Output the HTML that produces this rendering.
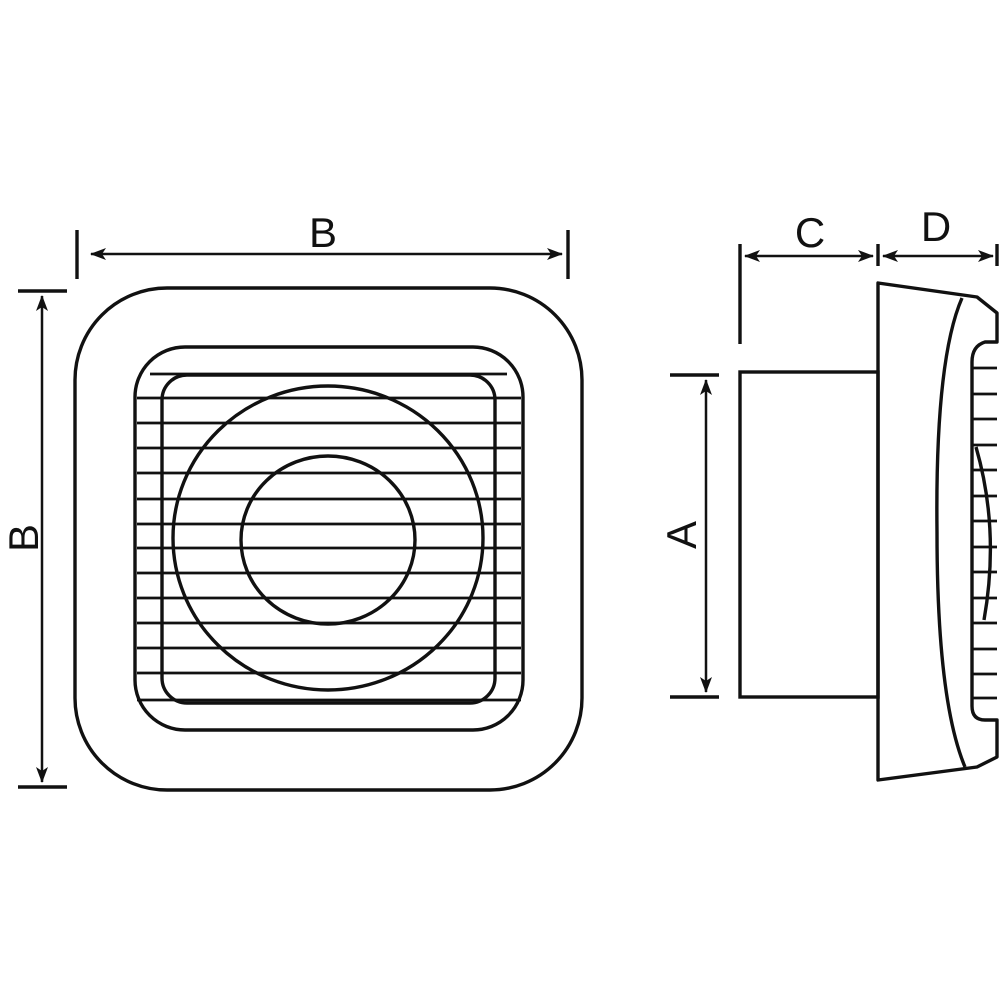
<!DOCTYPE html>
<html><head><meta charset="utf-8"><style>html,body{margin:0;padding:0;background:#fff}svg{display:block}</style></head>
<body>
<svg width="1000" height="1000" viewBox="0 0 1000 1000" xmlns="http://www.w3.org/2000/svg">
<defs>
<marker id="ar" viewBox="0 0 16 12" refX="15" refY="6" markerWidth="16" markerHeight="12" orient="auto-start-reverse" markerUnits="userSpaceOnUse">
<path d="M0,0 L16,6 L0,12 L4,6 Z" fill="#111"/>
</marker>
</defs>
<g fill="none" stroke="#111" stroke-width="3.4">
<!-- dimension lines -->
<line x1="77" y1="230" x2="77" y2="279"/>
<line x1="568" y1="230" x2="568" y2="279"/>
<line x1="91" y1="254" x2="562" y2="254" stroke-width="2.5" marker-start="url(#ar)" marker-end="url(#ar)"/>
<line x1="18" y1="291" x2="67" y2="291"/>
<line x1="18" y1="787" x2="67" y2="787"/>
<line x1="42" y1="296" x2="42" y2="782" stroke-width="2.5" marker-start="url(#ar)" marker-end="url(#ar)"/>
<line x1="740" y1="244" x2="740" y2="344"/>
<line x1="878" y1="244" x2="878" y2="266"/>
<line x1="997" y1="244" x2="997" y2="266"/>
<line x1="745" y1="256" x2="873" y2="256" stroke-width="2.5" marker-start="url(#ar)" marker-end="url(#ar)"/>
<line x1="883" y1="256" x2="993" y2="256" stroke-width="2.5" marker-start="url(#ar)" marker-end="url(#ar)"/>
<line x1="670" y1="375" x2="719" y2="375"/>
<line x1="670" y1="697" x2="719" y2="697"/>
<line x1="706" y1="380" x2="706" y2="692" stroke-width="2.5" marker-start="url(#ar)" marker-end="url(#ar)"/>

<!-- front view -->
<rect x="75" y="288" width="507" height="502" rx="92" ry="92"/>
<g stroke-width="2.8">
<line x1="137" y1="398" x2="521" y2="398"/>
<line x1="137" y1="423" x2="521" y2="423"/>
<line x1="137" y1="448" x2="521" y2="448"/>
<line x1="137" y1="473" x2="521" y2="473"/>
<line x1="137" y1="499" x2="521" y2="499"/>
<line x1="137" y1="524" x2="521" y2="524"/>
<line x1="137" y1="548" x2="521" y2="548"/>
<line x1="137" y1="573" x2="521" y2="573"/>
<line x1="137" y1="598" x2="521" y2="598"/>
<line x1="137" y1="623" x2="521" y2="623"/>
<line x1="137" y1="648" x2="521" y2="648"/>
<line x1="137" y1="673" x2="521" y2="673"/>
<line x1="137" y1="700" x2="521" y2="700"/>
<line x1="150" y1="374" x2="507" y2="374"/>
</g>
<rect x="135" y="347" width="388" height="383" rx="50" ry="50"/>
<rect x="162" y="375" width="333" height="328" rx="25" ry="25"/>
<ellipse cx="328" cy="538" rx="155" ry="152"/>
<ellipse cx="328" cy="540" rx="87" ry="84"/>

<!-- side view -->
<rect x="740" y="372" width="138" height="325"/>
<path d="M878,283 L977,297 L997,313 L997,342 L985,342 Q972,346 972,362 L972,706 Q972,720 985,720 L997,720 L997,757 L977,767 L878,780 Z" stroke-linejoin="round"/>
<path d="M962,298 Q935,360 937,532 Q937,700 965,767"/>
<path d="M976,447 Q1000,530 984,620"/>
<g stroke-width="2.8">
<line x1="972" y1="368" x2="997" y2="368"/>
<line x1="972" y1="394" x2="997" y2="394"/>
<line x1="972" y1="419" x2="997" y2="419"/>
<line x1="972" y1="445" x2="997" y2="445"/>
<line x1="972" y1="470" x2="997" y2="470"/>
<line x1="972" y1="496" x2="997" y2="496"/>
<line x1="972" y1="521" x2="997" y2="521"/>
<line x1="972" y1="547" x2="997" y2="547"/>
<line x1="972" y1="572" x2="997" y2="572"/>
<line x1="972" y1="598" x2="997" y2="598"/>
<line x1="972" y1="623" x2="997" y2="623"/>
<line x1="972" y1="649" x2="997" y2="649"/>
<line x1="972" y1="674" x2="997" y2="674"/>
<line x1="972" y1="698" x2="997" y2="698"/>
</g>
</g>
<g font-family="Liberation Sans, sans-serif" font-size="42" fill="#111" text-anchor="middle">
<text x="323" y="247">B</text>
<text x="810" y="247">C</text>
<text x="936" y="241">D</text>
<text transform="translate(38,538) rotate(-90)">B</text>
<text transform="translate(696,535) rotate(-90)">A</text>
</g>
</svg>
</body></html>
